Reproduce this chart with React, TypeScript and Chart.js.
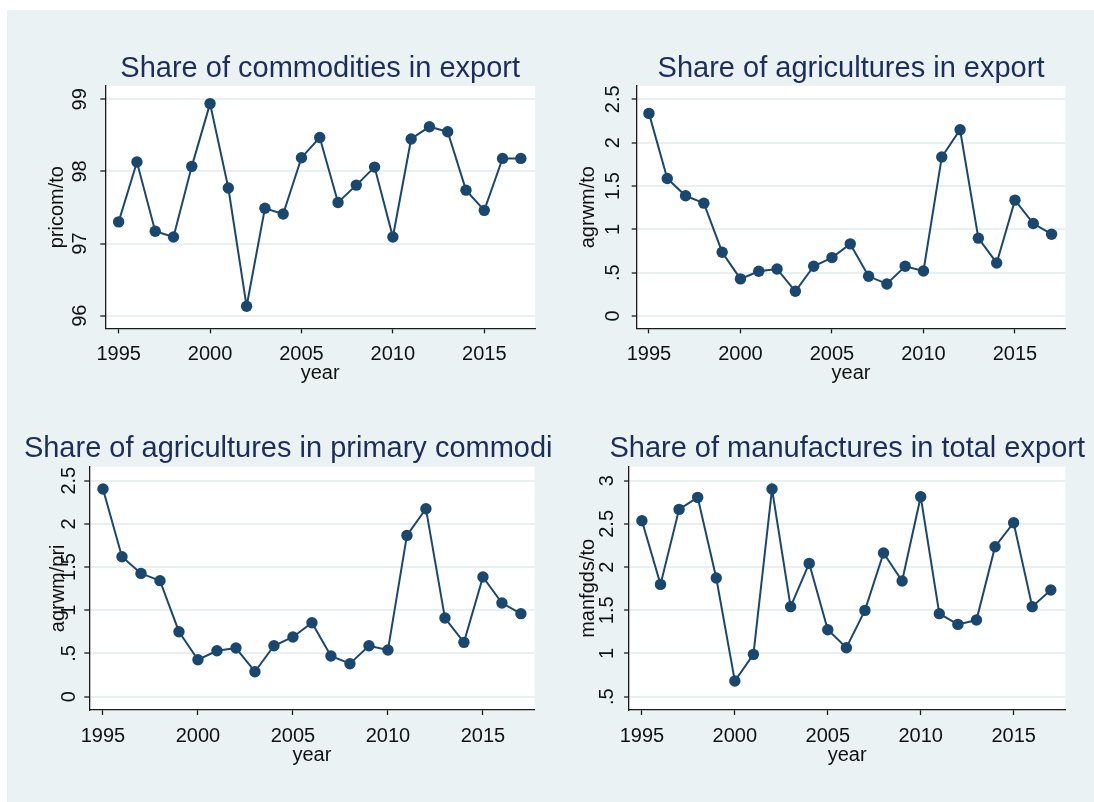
import React, { useEffect, useRef } from "react";
import { Chart, registerables } from "chart.js";

Chart.register(...registerables);

// ---- data -------------------------------------------------------------
const YEARS = [
  1995, 1996, 1997, 1998, 1999, 2000, 2001, 2002, 2003, 2004, 2005, 2006,
  2007, 2008, 2009, 2010, 2011, 2012, 2013, 2014, 2015, 2016, 2017,
];

const PRICOM_TO = [
  97.3, 98.13, 97.17, 97.09, 98.07, 98.94, 97.77, 96.13, 97.49, 97.41, 98.19,
  98.47, 97.57, 97.81, 98.06, 97.09, 98.45, 98.62, 98.55, 97.74, 97.46, 98.18,
  98.18,
];

const AGRWM_TO = [
  2.338, 1.587, 1.387, 1.302, 0.736, 0.428, 0.516, 0.543, 0.285, 0.574, 0.674,
  0.832, 0.458, 0.37, 0.574, 0.52, 1.834, 2.149, 0.898, 0.612, 1.337, 1.067,
  0.944,
];

const AGRWM_PRI = [
  2.404, 1.62, 1.427, 1.343, 0.752, 0.428, 0.532, 0.563, 0.289, 0.59, 0.691,
  0.856, 0.471, 0.382, 0.59, 0.54, 1.867, 2.176, 0.91, 0.629, 1.385, 1.084,
  0.961,
];

const MANFGDS_TO = [
  2.537, 1.8, 2.668, 2.807, 1.873, 0.681, 0.99, 2.904, 1.542, 2.043, 1.275,
  1.067, 1.499, 2.163, 1.839, 2.815, 1.461, 1.337, 1.387, 2.236, 2.514, 1.542,
  1.735,
];

const X_TICKS = [1995, 2000, 2005, 2010, 2015];
const X_TICK_LABELS = ["1995", "2000", "2005", "2010", "2015"];

const Y_TICKS_COM = [96, 97, 98, 99];
const Y_TICK_LABELS_COM = ["96", "97", "98", "99"];

const Y_TICKS_AGR = [0, 0.5, 1, 1.5, 2, 2.5];
const Y_TICK_LABELS_AGR = ["0", ".5", "1", "1.5", "2", "2.5"];

const Y_TICKS_MAN = [0.5, 1, 1.5, 2, 2.5, 3];
const Y_TICK_LABELS_MAN = [".5", "1", "1.5", "2", "2.5", "3"];

// ---- look -------------------------------------------------------------
const W = 1094;
const H = 802;
const FONT = '"Liberation Sans", Arial, Helvetica, sans-serif';
const NAVY = "#1a476f";
const TITLE_COLOR = "#1c2d5a";
const BG = "#eaf2f3";
const GRID = "#e8f0f2";
const AXIS = "#1a1a1a";

type Panel = {
  title: string;
  titleAlign: "center" | "left";
  titleX?: number;
  titleY: number;
  yTitle: string;
  values: number[];
  yTicks: number[];
  yTickLabels: string[];
  area: { left: number; top: number; right: number; bottom: number };
  xRange: [number, number];
  yRange: [number, number];
  yLabelGap: number;
  yTitleGap: number;
};

const PANELS: Panel[] = [
  {
    title: "Share of commodities in export",
    titleAlign: "center",
    titleY: 76.7,
    yTitle: "pricom/to",
    values: PRICOM_TO,
    yTicks: Y_TICKS_COM,
    yTickLabels: Y_TICK_LABELS_COM,
    area: { left: 105.3, top: 86, right: 535.1, bottom: 328.3 },
    xRange: [1994.27, 2017.78],
    yRange: [95.825, 99.184],
    yLabelGap: 19.4,
    yTitleGap: 42.8,
  },
  {
    title: "Share of agricultures in export",
    titleAlign: "center",
    titleY: 76.7,
    yTitle: "agrwm/to",
    values: AGRWM_TO,
    yTicks: Y_TICKS_AGR,
    yTickLabels: Y_TICK_LABELS_AGR,
    area: { left: 636.7, top: 86, right: 1065.3, bottom: 328.3 },
    xRange: [1994.33, 2017.75],
    yRange: [-0.142, 2.654],
    yLabelGap: 17.3,
    yTitleGap: 42.7,
  },
  {
    title: "Share of agricultures in primary commodi",
    titleAlign: "left",
    titleX: 23.9,
    titleY: 456.7,
    yTitle: "agrwm/pri",
    values: AGRWM_PRI,
    yTicks: Y_TICKS_AGR,
    yTickLabels: Y_TICK_LABELS_AGR,
    area: { left: 89.3, top: 466.7, right: 534.6, bottom: 710 },
    xRange: [1994.28, 2017.72],
    yRange: [-0.154, 2.662],
    yLabelGap: 14.3,
    yTitleGap: 25.3,
  },
  {
    title: "Share of manufactures in total export",
    titleAlign: "center",
    titleY: 456.7,
    yTitle: "manfgds/to",
    values: MANFGDS_TO,
    yTicks: Y_TICKS_MAN,
    yTickLabels: Y_TICK_LABELS_MAN,
    area: { left: 629.1, top: 466.7, right: 1065.3, bottom: 710 },
    xRange: [1994.31, 2017.78],
    yRange: [0.346, 3.162],
    yLabelGap: 16.6,
    yTitleGap: 35,
  },
];

// Draws the white plot region, the rotated y labels, x labels and titles.
function panelPlugin(p: Panel) {
  return {
    id: "panelText",
    beforeDraw(chart: any) {
      const { ctx, chartArea: a } = chart;
      ctx.save();
      ctx.fillStyle = "#ffffff";
      ctx.fillRect(a.left, a.top, a.right - a.left, a.bottom - a.top);
      ctx.restore();
    },
    afterDraw(chart: any) {
      const { ctx, chartArea: a } = chart;
      const xs = chart.scales.x;
      const ys = chart.scales.y;
      ctx.save();

      // title
      ctx.fillStyle = TITLE_COLOR;
      ctx.font = `29px ${FONT}`;
      ctx.textBaseline = "alphabetic";
      if (p.titleAlign === "left") {
        ctx.textAlign = "left";
        ctx.fillText(p.title, p.titleX ?? a.left, p.titleY);
      } else {
        ctx.textAlign = "center";
        ctx.fillText(p.title, (a.left + a.right) / 2, p.titleY);
      }

      ctx.fillStyle = "#111111";
      ctx.font = `20px ${FONT}`;

      // y tick labels, rotated to read upward
      ctx.textAlign = "center";
      p.yTicks.forEach((v, i) => {
        const py = ys.getPixelForValue(v);
        ctx.save();
        ctx.translate(a.left - p.yLabelGap, py);
        ctx.rotate(-Math.PI / 2);
        ctx.fillText(p.yTickLabels[i], 0, 0);
        ctx.restore();
      });

      // y axis title
      ctx.save();
      ctx.translate(a.left - p.yTitleGap, (a.top + a.bottom) / 2);
      ctx.rotate(-Math.PI / 2);
      ctx.fillText(p.yTitle, 0, 0);
      ctx.restore();

      // x tick labels
      X_TICKS.forEach((v, i) => {
        ctx.fillText(X_TICK_LABELS[i], xs.getPixelForValue(v), a.bottom + 32);
      });

      // x axis title
      ctx.fillText("year", (a.left + a.right) / 2, a.bottom + 51);

      ctx.restore();
    },
  };
}

function PanelChart({ panel }: { panel: Panel }) {
  const ref = useRef<HTMLCanvasElement | null>(null);

  useEffect(() => {
    if (!ref.current) return;
    const { area } = panel;
    const chart = new Chart(ref.current, {
      type: "line",
      data: {
        datasets: [
          {
            data: YEARS.map((yr, i) => ({ x: yr, y: panel.values[i] })),
            borderColor: NAVY,
            backgroundColor: NAVY,
            borderWidth: 2,
            pointRadius: 5.7,
            pointBorderWidth: 0,
            pointBackgroundColor: NAVY,
            tension: 0,
          },
        ],
      },
      options: {
        responsive: false,
        animation: false,
        events: [],
        layout: {
          autoPadding: false,
          padding: {
            left: area.left,
            top: area.top,
            right: W - area.right,
            bottom: H - area.bottom,
          },
        },
        plugins: {
          legend: { display: false },
          title: { display: false },
          tooltip: { enabled: false },
        },
        scales: {
          x: {
            type: "linear",
            min: panel.xRange[0],
            max: panel.xRange[1],
            afterBuildTicks: (s: any) => {
              s.ticks = X_TICKS.map((v) => ({ value: v }));
            },
            afterFit: (s: any) => {
              s.height = 0;
            },
            ticks: { display: false },
            grid: {
              drawOnChartArea: false,
              drawTicks: true,
              tickLength: 5,
              tickColor: AXIS,
              tickWidth: 1.3,
            },
            border: { display: true, color: AXIS, width: 1.3 },
          },
          y: {
            type: "linear",
            min: panel.yRange[0],
            max: panel.yRange[1],
            afterBuildTicks: (s: any) => {
              s.ticks = panel.yTicks.map((v) => ({ value: v }));
            },
            afterFit: (s: any) => {
              s.width = 0;
            },
            ticks: { display: false },
            grid: {
              drawOnChartArea: true,
              color: GRID,
              lineWidth: 2,
              drawTicks: true,
              tickLength: 5,
              tickColor: AXIS,
              tickWidth: 1.3,
            },
            border: { display: true, color: AXIS, width: 1.3 },
          },
        },
      },
      plugins: [panelPlugin(panel)],
    });
    return () => chart.destroy();
  }, [panel]);

  return (
    <canvas
      ref={ref}
      width={W}
      height={H}
      style={{ position: "absolute", left: 0, top: 0, width: W, height: H }}
    />
  );
}

export default function App() {
  return (
    <div
      style={{
        position: "fixed",
        left: 0,
        top: 0,
        width: W,
        height: H,
        background: "#ffffff",
        overflow: "hidden",
      }}
    >
      <div
        style={{
          position: "absolute",
          left: 7,
          top: 10,
          right: 0,
          bottom: 0,
          background: BG,
        }}
      />
      {PANELS.map((p, i) => (
        <PanelChart key={i} panel={p} />
      ))}
    </div>
  );
}
